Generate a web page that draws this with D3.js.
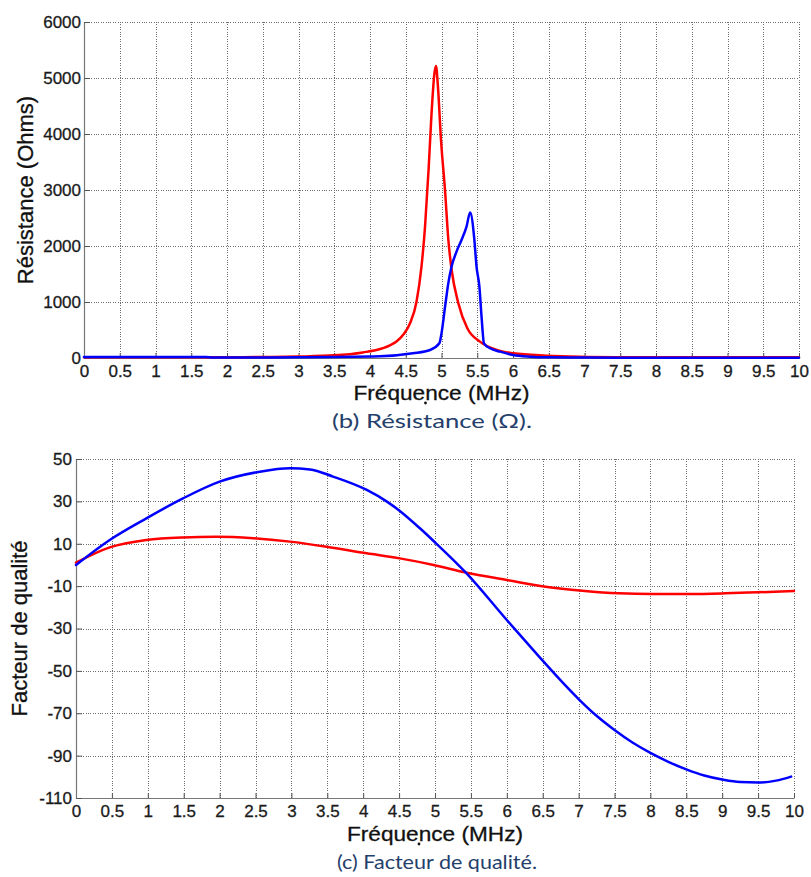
<!DOCTYPE html>
<html><head><meta charset="utf-8">
<script src="https://cdn.jsdelivr.net/npm/d3@7"></script>
<style>body{margin:0;background:#fff} svg{display:block}</style>
</head><body><svg id="c" width="811" height="877"></svg>
<script>
// ---------- data ----------
const freqTickValues = [0,0.5,1,1.5,2,2.5,3,3.5,4,4.5,5,5.5,6,6.5,7,7.5,8,8.5,9,9.5,10];
const freqTickLabels = ["0","0.5","1","1.5","2","2.5","3","3.5","4","4.5","5","5.5","6","6.5","7","7.5","8","8.5","9","9.5","10"];
const resTickValues = [0,1000,2000,3000,4000,5000,6000];
const resTickLabels = ["0","1000","2000","3000","4000","5000","6000"];
const qTickValues = [50,30,10,-10,-30,-50,-70,-90,-110];
const qTickLabels = ["50","30","10","-10","-30","-50","-70","-90","-110"];

// Résistance (Ohms) — red
const redResFreq = [0,0.5,1,1.5,2,2.5,3,3.5,3.9,4.14,4.3,4.37,4.47,4.56,4.65,4.72,4.77,4.82,4.86,4.9,4.923,4.95,4.993,5.049,5.096,5.142,5.236,5.361,5.538,5.772,6.005,6.47,6.94,7.5,8,9,10];
const redResVal  = [12,12,12,13,14,17,26,47,100,160,240,296,424,620,1000,1630,2350,3380,4350,5070,5214,4850,3893,3000,2107,1571,976,530,292,143,83,42,22,14,12,12,12];
// Résistance (Ohms) — blue
const blueResFreq = [0,1.7,1.8,2.5,3,3.5,4,4.14,4.6,4.84,4.97,5.0,5.05,5.095,5.14,5.21,5.28,5.35,5.40,5.46,5.49,5.53,5.56,5.594,5.68,5.82,6.0,6.24,6.5,7,8,10];
const blueResVal  = [20,20,9,9,12,20,28,30,83,143,262,440,917,1333,1630,1899,2107,2345,2600,2107,1630,1274,738,262,173,113,54,24,12,8,6,6];

// Facteur de qualité — blue
const blueQFreq = [0,0.47,0.98,1.49,2.0,2.56,2.98,3.26,3.58,4.05,4.33,4.51,4.79,4.98,5.44,6.0,6.25,6.5,6.75,7.0,7.25,7.5,7.75,8.0,8.25,8.5,8.75,9.0,9.25,9.5,9.75,9.96];
const blueQVal  = [0,11.8,22.0,31.4,39.3,44.0,45.6,45.1,41.7,35.4,29.9,25.5,17.3,11.3,-4.0,-26.0,-35.6,-45.2,-54.5,-63.3,-71.2,-77.9,-83.8,-88.7,-92.9,-96.5,-99.4,-101.3,-102.5,-102.7,-101.8,-99.9];
// Facteur de qualité — red
const redQFreq = [0,0.47,0.98,1.49,1.95,2.47,2.98,3.49,4.05,4.51,4.98,5.44,6.0,6.54,7.05,7.56,8.03,8.54,9.04,9.5,10.0];
const redQVal  = [1.1,8.3,11.8,13.0,13.3,12.6,11.0,8.6,5.5,3.1,0,-3.7,-7.1,-10.3,-12.2,-13.4,-13.7,-13.7,-13.4,-12.9,-12.3];

// ---------- drawing ----------
const svg = d3.select("#c");
const FONT = "'Liberation Sans', Arimo, Arial, Helvetica, sans-serif";

function zip(a,b){ return a.map((v,i)=>[v,b[i]]); }

function panel(cfg){
  const x = d3.scaleLinear().domain([0,10]).range([cfg.x0,cfg.x1]);
  const y = d3.scaleLinear().domain(cfg.yDomain).range([cfg.y1,cfg.y0]);
  const g = svg.append("g");

  // grid
  const grid = g.append("g").attr("stroke","#6e6e6e").attr("stroke-width",1)
    .attr("stroke-dasharray","1,1.4").attr("shape-rendering","crispEdges");
  grid.selectAll("line.v").data(freqTickValues.filter(d=>d>0)).join("line")
    .attr("x1",d=>Math.round(x(d))+0.5).attr("x2",d=>Math.round(x(d))+0.5)
    .attr("y1",cfg.y0).attr("y2",cfg.y1);
  grid.selectAll("line.h").data(cfg.yTicks.filter(d=>d!==cfg.yDomain[0])).join("line")
    .attr("y1",d=>Math.round(y(d))+0.5).attr("y2",d=>Math.round(y(d))+0.5)
    .attr("x1",cfg.x0).attr("x2",cfg.x1);

  // axes
  const ax = g.append("g").attr("transform",`translate(0,${cfg.y1})`)
    .call(d3.axisBottom(x).tickValues(freqTickValues)
      .tickFormat((d,i)=>freqTickLabels[i]).tickSize(-5).tickSizeOuter(0).tickPadding(7));
  const ay = g.append("g").attr("transform",`translate(${cfg.x0},0)`)
    .call(d3.axisLeft(y).tickValues(cfg.yTicks)
      .tickFormat((d,i)=>cfg.yLabels[i]).tickSize(-6).tickSizeOuter(0).tickPadding(cfg.yPad));
  [ax,ay].forEach(a=>{
    a.attr("font-family",FONT);
    a.select(".domain").attr("stroke","#777").attr("stroke-width",1.2);
    a.selectAll(".tick line").attr("stroke","#555");
    a.selectAll(".tick text").attr("fill","#1a1a1a").attr("stroke","#1a1a1a").attr("stroke-width",0.3)
      .style("font-family",FONT).style("font-size","17px");
  });

  // lines
  const line = d3.line().x(d=>x(d[0])).y(d=>y(d[1])).curve(d3.curveMonotoneX);
  cfg.series.forEach(s=>{
    g.append("path").datum(zip(s.x,s.y)).attr("d",line)
      .attr("fill","none").attr("stroke",s.color).attr("stroke-width",2.5)
      .attr("stroke-linejoin","round").attr("stroke-linecap","round");
  });

  // axis titles
  const cx = (cfg.x0+cfg.x1)/2;
  g.append("text").attr("x",cx).attr("y",cfg.xTitleY).attr("text-anchor","middle")
    .style("font-family",FONT).style("font-size","21px").attr("fill","#111")
    .attr("stroke","#111").attr("stroke-width",0.3)
    .attr("textLength",176).attr("lengthAdjust","spacingAndGlyphs")
    .text("Fréquence (MHz)");
  g.append("circle").attr("cx",cx-16).attr("cy",cfg.xTitleY+3).attr("r",1.4).attr("fill","#111");
  g.append("text").attr("transform",`translate(${cfg.yTitleX},${(cfg.y0+cfg.y1)/2}) rotate(-90)`)
    .attr("text-anchor","middle").style("font-family",FONT).style("font-size","22px").attr("fill","#111")
    .attr("stroke","#111").attr("stroke-width",0.3)
    .text(cfg.yTitle);

  // caption
  g.append("text").attr("x",cfg.capX).attr("y",cfg.capY).attr("text-anchor","middle")
    .style("font-family","Lato, 'Open Sans', sans-serif").style("font-size","19px").attr("fill","#24406b")
    .attr("textLength",cfg.capW).attr("lengthAdjust","spacingAndGlyphs")
    .text(cfg.caption);
}

panel({
  x0:84, x1:799, y0:22, y1:358, yDomain:[0,6000], yTicks:resTickValues, yLabels:resTickLabels, yPad:3,
  series:[{x:redResFreq,y:redResVal,color:"#ff0000"},{x:blueResFreq,y:blueResVal,color:"#0000ff"}],
  xTitleY:400, yTitleX:33, yTitle:"Résistance (Ohms)",
  caption:"(b) Résistance (Ω).", capX:432, capY:428, capW:200
});
panel({
  x0:76, x1:794, y0:459, y1:798, yDomain:[-110,50], yTicks:qTickValues, yLabels:qTickLabels, yPad:4,
  series:[{x:redQFreq,y:redQVal,color:"#ff0000"},{x:blueQFreq,y:blueQVal,color:"#0000ff"}],
  xTitleY:841, yTitleX:27, yTitle:"Facteur de qualité",
  caption:"(c) Facteur de qualité.", capX:437, capY:869, capW:200
});
</script></body></html>
